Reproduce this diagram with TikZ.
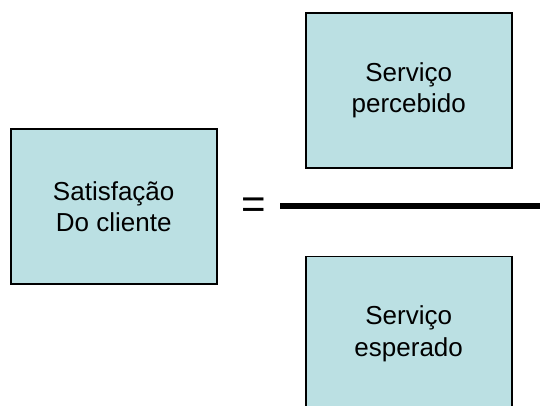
\documentclass[tikz,border=0pt]{standalone}
\usepackage{fontspec}
\setmainfont{Liberation Sans}
\definecolor{boxfill}{RGB}{187,224,227}
\begin{document}
\begin{tikzpicture}[x=1pt,y=-1pt,
  box/.style={draw=black, line width=1.6pt, fill=boxfill, rectangle,
    minimum width=206pt, minimum height=155pt, inner sep=0pt, align=center,
    font=\fontsize{26}{31.5}\selectfont},
  bar/.style={line width=6.5pt, line cap=butt}]
\clip (0,0) rectangle (540,405);
\node[box] (sat) at (113.7,206.5) {Satisfação\\Do cliente};
\node[box] (perc) at (408.7,90.5) {Serviço\\percebido};
\node[box] (esp) at (408.7,334) {Serviço\\esperado};
\node[inner sep=0pt, font=\fontsize{42}{42}\selectfont] (eq) at (253.5,208) {=};
\coordinate (l1) at (280,206);
\coordinate (l2) at (540,206);
\draw[bar] (l1) -- (l2);
\end{tikzpicture}
\end{document}
